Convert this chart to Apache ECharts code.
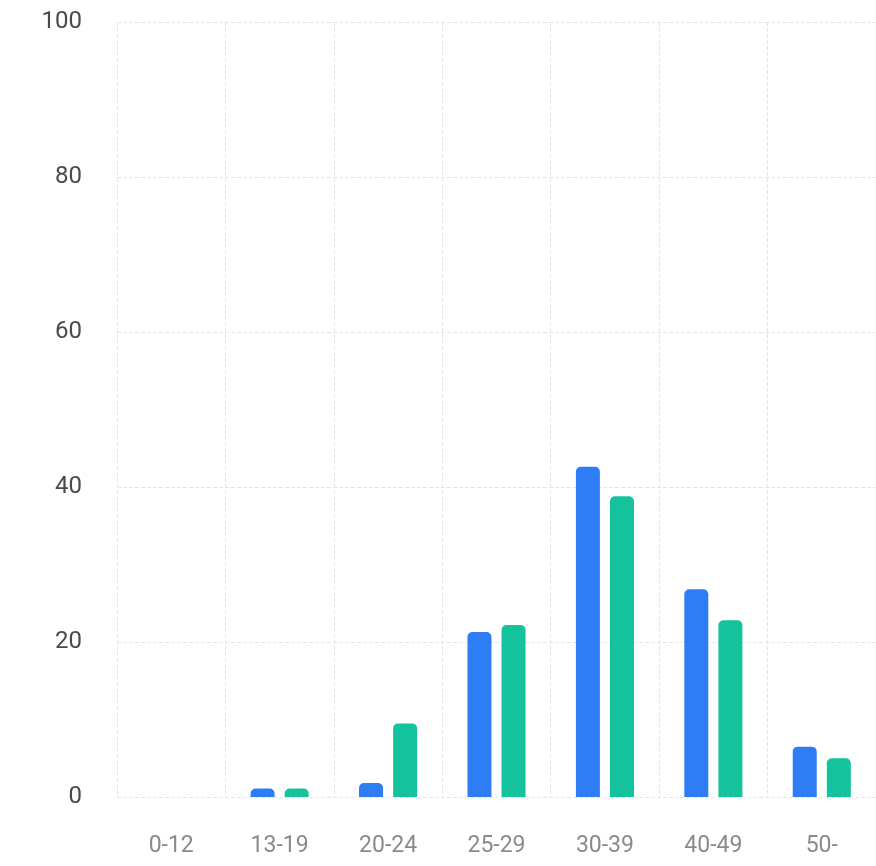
<!DOCTYPE html>
<html>
<head>
<meta charset="utf-8">
<script src="https://cdn.jsdelivr.net/npm/echarts@6/dist/echarts.min.js"></script>
<style>
html,body{margin:0;padding:0;background:#fff;}
#chart{width:876px;height:866px;}
</style>
</head>
<body>
<div id="chart"></div>
<script>
const categories = ['0-12', '13-19', '20-24', '25-29', '30-39', '40-49', '50-'];
const seriesA = [0, 1.1, 1.8, 21.3, 42.6, 26.8, 6.5];
const seriesB = [0, 1.1, 9.5, 22.2, 38.8, 22.8, 5.0];
const yTicks = { min: 0, max: 100, interval: 20 };

const chart = echarts.init(document.getElementById('chart'));
chart.setOption({
  animation: false,
  backgroundColor: '#ffffff',
  grid: { left: 117, right: 0, top: 22, bottom: 69, containLabel: false },
  xAxis: {
    type: 'category',
    data: categories,
    boundaryGap: true,
    axisLine: { show: false },
    axisTick: { show: false },
    axisLabel: { margin: 38, fontSize: 23, color: '#8a8a8a', fontFamily: 'Roboto' },
    splitLine: { show: true, lineStyle: { color: '#e6e6e6', type: 'dashed', width: 1 } }
  },
  yAxis: {
    type: 'value',
    min: yTicks.min,
    max: yTicks.max,
    interval: yTicks.interval,
    axisLine: { show: false },
    axisTick: { show: false },
    axisLabel: { margin: 35, fontSize: 24, color: '#4a4a4a', fontFamily: 'Roboto' },
    splitLine: { show: true, lineStyle: { color: '#e6e6e6', type: 'dashed', width: 1 } }
  },
  series: [
    {
      type: 'bar',
      data: seriesA,
      barWidth: 24,
      barGap: '42%',
      itemStyle: { color: '#2f7df4', borderRadius: [5, 5, 0, 0] }
    },
    {
      type: 'bar',
      data: seriesB,
      barWidth: 24,
      itemStyle: { color: '#14c39e', borderRadius: [5, 5, 0, 0] }
    }
  ]
});
</script>
</body>
</html>
